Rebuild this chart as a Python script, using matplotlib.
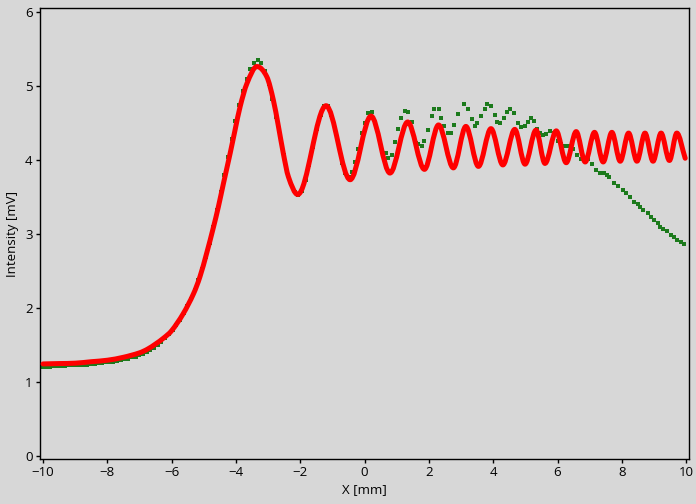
import matplotlib
matplotlib.use("Agg")

import matplotlib.pyplot as plt
from matplotlib.path import Path
from matplotlib.patches import PathPatch

plt.rcParams['font.family'] = ['Open Sans', 'DejaVu Sans']

# red curve: knots (rise, then peaks / troughs)
red_x = [-10.00, -9.50, -9.00, -8.50, -8.00, -7.50, -7.00, -6.75, -6.50, -6.25,
         -6.00, -5.64, -5.32, -5.12, -4.91, -4.70, -4.55, -4.39, -4.18, -4.03,
         -3.87, -3.66, -3.35, -3.04, -2.84, -2.68, -2.53, -2.37, -2.08, -1.20,
         -0.45, 0.20, 0.79, 1.34, 1.86, 2.30, 2.76, 3.15, 3.54, 3.93,
         4.30, 4.67, 4.99, 5.33, 5.61, 5.96, 6.27, 6.58, 6.86, 7.15,
         7.42, 7.69, 7.95, 8.21, 8.47, 8.72, 8.97, 9.22, 9.48, 9.71, 9.97]
red_y = [1.24, 1.245, 1.25, 1.27, 1.29, 1.33, 1.39, 1.44, 1.51, 1.59,
         1.69, 1.92, 2.19, 2.42, 2.74, 3.09, 3.36, 3.68, 4.09, 4.40,
         4.72, 5.03, 5.26, 5.12, 4.81, 4.45, 4.09, 3.77, 3.53, 4.73,
         3.73, 4.59, 3.82, 4.51, 3.87, 4.47, 3.89, 4.45, 3.91, 4.42,
         3.93, 4.41, 3.94, 4.40, 3.95, 4.39, 3.96, 4.38, 3.97, 4.37,
         3.97, 4.37, 3.98, 4.36, 3.98, 4.36, 3.98, 4.36, 3.99, 4.36, 4.02]

# green measured points
green_x = [-10.00, -9.88, -9.77, -9.65, -9.54, -9.42, -9.31, -9.19, -9.08, -8.96,
           -8.85, -8.73, -8.62, -8.50, -8.39, -8.27, -8.16, -8.04, -7.93, -7.81,
           -7.70, -7.58, -7.47, -7.35, -7.24, -7.12, -7.01, -6.89, -6.78, -6.66,
           -6.55, -6.43, -6.32, -6.20, -6.09, -5.97, -5.86, -5.74, -5.63, -5.51,
           -5.40, -5.28, -5.17, -5.05, -4.94, -4.82, -4.71, -4.59, -4.48, -4.36,
           -4.25, -4.13, -4.02, -3.90, -3.79, -3.67, -3.56, -3.44, -3.33, -3.21,
           -3.10, -2.98, -2.87, -2.75, -2.64, -2.52, -2.41, -2.29, -2.18, -2.06,
           -1.95, -1.83, -1.72, -1.60, -1.49, -1.37, -1.26, -1.14, -1.03, -0.91,
           -0.80, -0.69, -0.60, -0.50, -0.40, -0.30, -0.19, -0.09, 0.01, 0.12,
           0.22, 0.33, 0.44, 0.54, 0.65, 0.74, 0.85, 0.95, 1.05, 1.14,
           1.26, 1.36, 1.47, 1.59, 1.67, 1.78, 1.86, 1.98, 2.09, 2.17,
           2.30, 2.38, 2.48, 2.58, 2.69, 2.79, 2.90, 3.09, 3.21, 3.33,
           3.42, 3.51, 3.62, 3.73, 3.82, 3.93, 4.04, 4.13, 4.21, 4.35,
           4.44, 4.53, 4.65, 4.76, 4.86, 4.98, 5.08, 5.17, 5.26, 5.36,
           5.45, 5.54, 5.65, 5.77, 5.90, 6.00, 6.11, 6.22, 6.36, 6.48,
           6.60, 6.72, 6.83, 6.96, 7.07, 7.20, 7.33, 7.45, 7.53, 7.61,
           7.76, 7.89, 8.03, 8.13, 8.26, 8.38, 8.49, 8.57, 8.67, 8.80,
           8.90, 9.01, 9.11, 9.19, 9.29, 9.40, 9.52, 9.63, 9.73, 9.84, 9.94]
green_y = [1.20, 1.20, 1.20, 1.21, 1.21, 1.21, 1.21, 1.22, 1.22, 1.22,
           1.23, 1.23, 1.23, 1.24, 1.24, 1.25, 1.25, 1.26, 1.26, 1.27,
           1.28, 1.29, 1.30, 1.31, 1.33, 1.34, 1.36, 1.38, 1.40, 1.43,
           1.46, 1.50, 1.54, 1.59, 1.64, 1.70, 1.77, 1.84, 1.93, 2.02,
           2.12, 2.24, 2.37, 2.52, 2.69, 2.88, 3.09, 3.32, 3.56, 3.80,
           4.04, 4.28, 4.52, 4.74, 4.93, 5.09, 5.22, 5.31, 5.35, 5.31,
           5.20, 5.03, 4.82, 4.58, 4.32, 4.07, 3.84, 3.67, 3.56, 3.53,
           3.58, 3.72, 3.93, 4.17, 4.41, 4.61, 4.72, 4.72, 4.61, 4.41,
           4.17, 3.96, 3.82, 3.77, 3.83, 3.97, 4.15, 4.36, 4.50, 4.63,
           4.64, 4.50, 4.31, 4.12, 4.09, 4.02, 4.07, 4.24, 4.42, 4.57,
           4.66, 4.64, 4.51, 4.23, 4.21, 4.19, 4.25, 4.40, 4.59, 4.69,
           4.69, 4.57, 4.46, 4.36, 4.36, 4.47, 4.62, 4.75, 4.69, 4.55,
           4.46, 4.49, 4.59, 4.69, 4.76, 4.73, 4.60, 4.51, 4.49, 4.56,
           4.65, 4.69, 4.63, 4.50, 4.44, 4.46, 4.51, 4.56, 4.53, 4.41,
           4.36, 4.33, 4.35, 4.39, 4.36, 4.25, 4.21, 4.19, 4.18, 4.14,
           4.06, 4.01, 4.00, 4.01, 3.94, 3.86, 3.82, 3.82, 3.79, 3.76,
           3.69, 3.64, 3.59, 3.55, 3.50, 3.43, 3.40, 3.36, 3.32, 3.28,
           3.22, 3.19, 3.15, 3.09, 3.06, 3.03, 2.98, 2.95, 2.91, 2.89, 2.86]


def smooth_path(xs, ys):
    # cubic bezier through the knots, flat at the peaks and troughs
    n = len(xs)
    slopes = []
    for i in range(n):
        if i == 0:
            m = (ys[1] - ys[0]) / (xs[1] - xs[0])
        elif i == n - 1:
            m = (ys[-1] - ys[-2]) / (xs[-1] - xs[-2])
        elif (ys[i] - ys[i - 1]) * (ys[i + 1] - ys[i]) <= 0:
            m = 0.0
        else:
            m = (ys[i + 1] - ys[i - 1]) / (xs[i + 1] - xs[i - 1])
        slopes.append(m)
    verts = [(xs[0], ys[0])]
    codes = [Path.MOVETO]
    for i in range(n - 1):
        d = (xs[i + 1] - xs[i]) / 3
        verts += [(xs[i] + d, ys[i] + slopes[i] * d),
                  (xs[i + 1] - d, ys[i + 1] - slopes[i + 1] * d),
                  (xs[i + 1], ys[i + 1])]
        codes += [Path.CURVE4] * 3
    return Path(verts, codes)


bg = '#d7d7d7'
fig = plt.figure(figsize=(6.96, 5.04), dpi=100, facecolor=bg)
ax = fig.add_axes([0.0568, 0.0893, 0.9332, 0.8947], facecolor=bg)

ax.plot(green_x, green_y, linestyle='none', marker='s', markersize=2.4,
        color='#1c7a1c', markeredgewidth=0, zorder=2)
ax.add_patch(PathPatch(smooth_path(red_x, red_y), fill=False, edgecolor='#ff0000',
                       linewidth=3.6, capstyle='round', joinstyle='round', zorder=3))

ax.set_xlim(-10.11, 10.09)
ax.set_ylim(-0.045, 6.05)
ax.set_xticks(range(-10, 11, 2))
ax.set_yticks(range(0, 7))
ax.tick_params(direction='out', length=3, width=1, labelsize=9.5, pad=2)
for s in ax.spines.values():
    s.set_linewidth(1.0)
ax.set_xlabel('X [mm]', fontsize=9.5, labelpad=3)
ax.set_ylabel('Intensity [mV]', fontsize=9.5, labelpad=4)

fig.savefig('out.png', dpi=100, facecolor=bg)
